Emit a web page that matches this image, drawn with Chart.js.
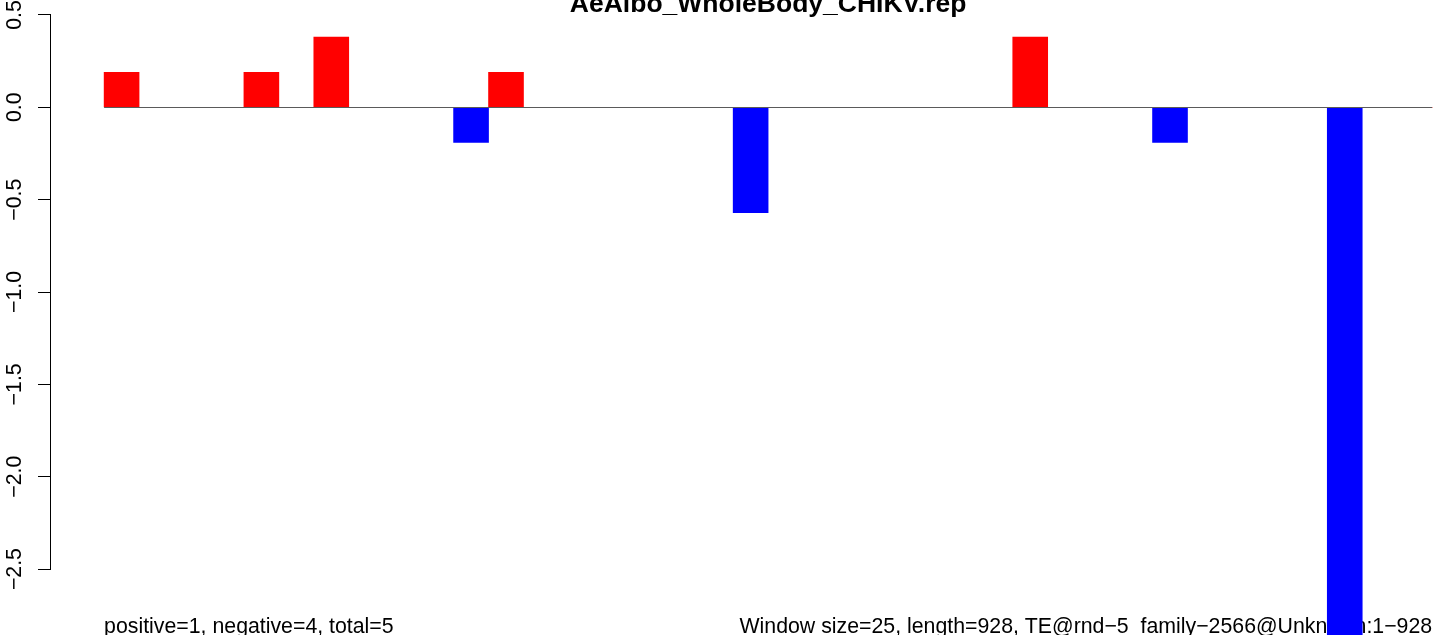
<!DOCTYPE html>
<html>
<head>
<meta charset="utf-8">
<script src="https://cdn.jsdelivr.net/npm/chart.js@4/dist/chart.umd.min.js"></script>
<style>
  html, body { margin: 0; padding: 0; background: #fff; }
  #wrap { width: 1444px; height: 635px; position: relative; }
</style>
</head>
<body>
<div id="wrap"><canvas id="myChart"></canvas></div>
<script>
// window scores, one per 25-bp window (928 bp -> 38 windows)
const windowValues = [
  0.19, 0, 0, 0, 0.19, 0, 0.38, 0, 0, 0,
  -0.19, 0.19, 0, 0, 0, 0, 0, 0, -0.57, 0,
  0, 0, 0, 0, 0, 0, 0.38, 0, 0, 0,
  -0.19, 0, 0, 0, 0, -3.1, 0, 0
];
const yTicks = [-2.5, -2.0, -1.5, -1.0, -0.5, 0.0, 0.5];
const yTickLabels = ['\u22122.5', '\u22122.0', '\u22121.5', '\u22121.0', '\u22120.5', '0.0', '0.5'];
const chartTitle = 'AeAlbo_WholeBody_CHIKV.rep';
const leftNote = 'positive=1, negative=4, total=5';
const rightNote = 'Window size=25, length=928, TE@rnd\u22125_family\u22122566@Unknown:1\u2212928';

const FONT = '"Liberation Sans", Arial, Helvetica, sans-serif';

const annotations = {
  id: 'annotations',
  beforeDatasetsDraw(chart) {
    const ctx = chart.ctx;
    const x = chart.scales.x;
    const y = chart.scales.y;
    ctx.save();
    // y axis line and rotated tick labels
    const ax = chart.chartArea.left - 0.5;
    ctx.strokeStyle = '#000';
    ctx.lineWidth = 1;
    ctx.beginPath();
    ctx.moveTo(ax, y.getPixelForValue(yTicks[0]));
    ctx.lineTo(ax, y.getPixelForValue(yTicks[yTicks.length - 1]));
    ctx.stroke();

    ctx.fillStyle = '#000';
    ctx.font = '21.3px ' + FONT;
    ctx.textAlign = 'center';
    ctx.textBaseline = 'alphabetic';
    yTicks.forEach((v, i) => {
      ctx.save();
      ctx.translate(21, y.getPixelForValue(v));
      ctx.rotate(-Math.PI / 2);
      ctx.fillText(yTickLabels[i], 0, 0);
      ctx.restore();
    });

    // title
    ctx.font = 'bold 26.5px ' + FONT;
    ctx.textAlign = 'center';
    ctx.fillText(chartTitle, (x.getPixelForValue(0) + x.getPixelForValue(windowValues.length)) / 2, 12);

    // bottom notes
    ctx.font = '21.3px ' + FONT;
    ctx.textAlign = 'left';
    ctx.fillText(leftNote, x.getPixelForValue(0), 633);
    ctx.textAlign = 'right';
    ctx.fillText(rightNote, x.getPixelForValue(windowValues.length), 633);
    ctx.restore();
  },
  afterDatasetsDraw(chart) {
    const ctx = chart.ctx;
    const x = chart.scales.x;
    const y = chart.scales.y;
    const y0 = Math.round(y.getPixelForValue(0)) + 0.5;
    ctx.save();
    ctx.strokeStyle = '#5a5a5a';
    ctx.lineWidth = 1;
    ctx.beginPath();
    ctx.moveTo(x.getPixelForValue(0), y0);
    ctx.lineTo(x.getPixelForValue(windowValues.length), y0);
    ctx.stroke();
    ctx.restore();
  }
};

const ctx = document.getElementById('myChart').getContext('2d');
new Chart(ctx, {
  type: 'bar',
  data: {
    datasets: [{
      data: windowValues.map((v, i) => ({ x: i + 0.5, y: v })),
      backgroundColor: windowValues.map(v => v >= 0 ? '#ff0000' : '#0000ff'),
      borderWidth: 0,
      barPercentage: 1,
      categoryPercentage: 1
    }]
  },
  options: {
    responsive: true,
    maintainAspectRatio: false,
    animation: false,
    layout: { padding: { left: 38, right: 0, top: 0, bottom: 0 } },
    plugins: {
      legend: { display: false },
      tooltip: { enabled: false },
      title: { display: false }
    },
    scales: {
      x: {
        type: 'linear',
        display: false,
        offset: false,
        min: -1.52,
        max: 38.34
      },
      y: {
        min: -2.857,
        max: 0.581,
        afterBuildTicks: scale => {
          scale.ticks = yTicks.map(v => ({ value: v }));
        },
        ticks: { display: false },
        border: { display: false },
        grid: {
          drawOnChartArea: false,
          drawTicks: true,
          tickLength: 13,
          color: '#000',
          lineWidth: 1
        }
      }
    }
  },
  plugins: [annotations]
});
</script>
</body>
</html>
